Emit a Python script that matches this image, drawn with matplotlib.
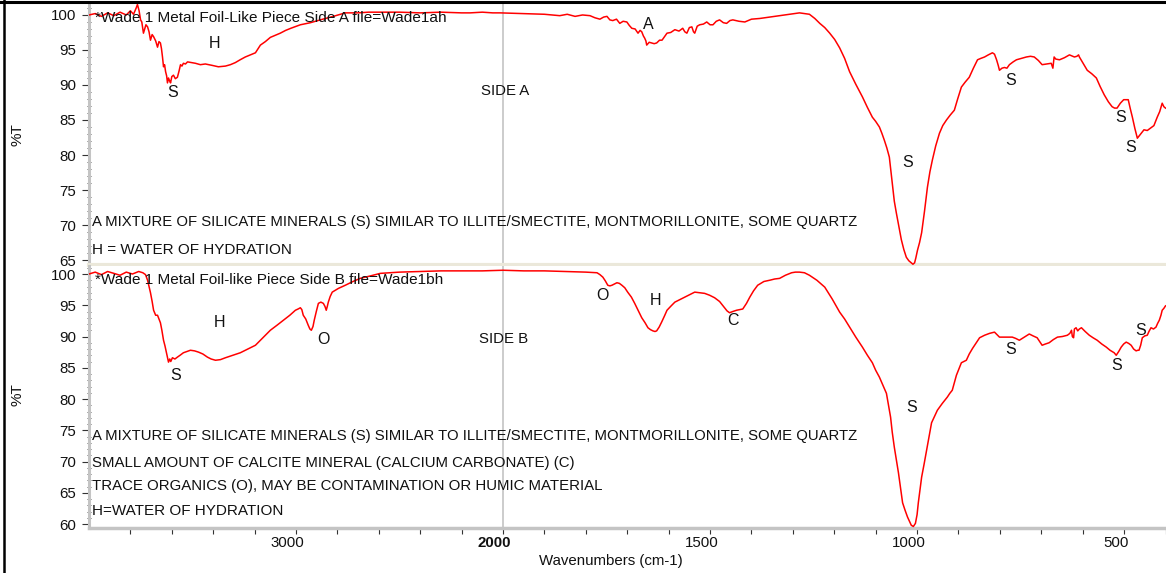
import numpy as np
import matplotlib
matplotlib.use("Agg")
import matplotlib.pyplot as plt
from matplotlib.lines import Line2D
from matplotlib.transforms import ScaledTranslation
from matplotlib import font_manager

# ---------------- data ----------------
# Side A spectrum: wavenumber (cm-1) and %T
wave_a = [4000, 3970, 3940, 3910, 3880, 3850, 3820, 3800, 3785, 3772, 3766, 3758,
          3751, 3745, 3737, 3725, 3717, 3710, 3703, 3695, 3688, 3678, 3669, 3662,
          3655, 3650, 3645, 3640, 3635, 3630, 3625, 3621, 3616, 3611, 3606, 3600,
          3592, 3583, 3573, 3565, 3558, 3551, 3544, 3534, 3524, 3505, 3486, 3462,
          3438, 3405, 3375, 3341, 3317, 3293, 3270, 3245, 3220, 3196, 3172, 3148,
          3124, 3100, 3076, 3050, 3025, 2979, 2930, 2883, 2820, 2762, 2700, 2650,
          2593, 2500, 2400, 2300, 2200, 2159, 2100, 2050, 2014, 1950, 1900, 1863,
          1845, 1826, 1808, 1790, 1778, 1766, 1757, 1749, 1742, 1735, 1726, 1718,
          1710, 1701, 1695, 1689, 1681, 1674, 1669, 1665, 1661, 1658, 1655, 1653,
          1647, 1641, 1635, 1629, 1622, 1616, 1610, 1604, 1595, 1585, 1575, 1566,
          1561, 1556, 1550, 1544, 1540, 1537, 1531, 1525, 1516, 1508, 1500, 1493,
          1485, 1477, 1468, 1460, 1452, 1445, 1430, 1416, 1400, 1380, 1356, 1332,
          1308, 1284, 1272, 1260, 1247, 1235, 1223, 1211, 1199, 1187, 1175, 1163,
          1148, 1132, 1120, 1108, 1100, 1091, 1085, 1079, 1073, 1067, 1063, 1059,
          1055, 1050, 1044, 1038, 1032, 1026, 1020, 1014, 1010, 1006, 1003, 999,
          994, 989, 982, 975, 969, 963, 955, 946, 938, 929, 920, 910,
          902, 893, 884, 874, 864, 854, 846, 837, 828, 818, 813, 808,
          804, 801, 795, 789, 783, 777, 768, 760, 748, 736, 726, 717,
          707, 698, 687, 676, 672, 669, 665, 656, 644, 632, 620, 614,
          610, 608, 598, 589, 578, 567, 558, 548, 538, 529, 523, 517,
          509, 501, 495, 490, 485, 480, 474, 468, 460, 452, 444, 435,
          428, 420, 414, 408, 404, 400]
trans_a = [100.0, 100.2, 99.8, 100.3, 99.9, 100.4, 100.0, 100.6, 100.1, 101.0, 101.5, 100.6,
           99.3, 99.0, 97.4, 98.6, 98.3, 97.6, 96.4, 97.2, 96.9, 96.3, 95.4, 96.2,
           96.0, 95.2, 94.0, 92.6, 92.9, 91.9, 91.3, 90.3, 91.0, 90.6, 90.3, 91.2,
           91.4, 90.9, 91.1, 92.0, 92.9, 92.7, 93.1, 93.0, 93.3, 93.2, 93.1, 92.9,
           93.0, 92.8, 92.6, 92.7, 92.9, 93.2, 93.6, 94.0, 94.3, 94.6, 95.7, 96.2,
           96.8, 97.1, 97.4, 97.8, 98.1, 98.6, 98.9, 99.3, 99.8, 100.3, 100.3, 100.4,
           100.4, 100.4, 100.3, 100.4, 100.3, 100.3, 100.4, 100.3, 100.3, 100.2, 100.1, 99.9,
           100.1, 99.8, 100.0, 99.9, 99.6, 99.4, 99.7, 99.8, 99.3, 99.2, 99.4, 98.8,
           99.1, 99.0, 98.5, 98.1, 98.0, 97.4, 97.8, 97.6, 97.0, 96.7, 96.3, 95.7,
           96.1, 96.0, 95.9, 96.0, 96.4, 96.4, 96.9, 97.4, 97.5, 97.9, 97.7, 98.1,
           97.6, 97.4, 98.2, 98.3, 97.6, 97.4, 98.4, 98.6, 98.7, 99.0, 98.6, 98.6,
           99.1, 99.3, 98.9, 98.8, 99.2, 99.3, 99.1, 99.0, 99.4, 99.5, 99.7, 99.9,
           100.1, 100.3, 100.2, 100.1, 99.5, 98.8, 98.2, 97.4, 96.5, 95.3, 93.8, 91.9,
           90.1, 88.3, 86.8, 85.4, 84.8, 84.0, 83.1, 82.1, 81.0, 79.7, 77.6, 75.4,
           73.4, 71.7, 69.8, 67.9, 66.5, 65.4, 64.9, 64.6, 64.4, 64.6, 65.3, 66.4,
           67.5, 68.9, 72.0, 75.4, 77.6, 79.3, 81.3, 83.1, 84.2, 85.0, 85.7, 86.4,
           88.0, 89.7, 90.4, 91.1, 92.4, 93.6, 93.8, 94.0, 94.3, 94.6, 94.4, 93.6,
           92.8, 92.1, 92.4, 92.5, 92.4, 92.9, 93.3, 93.6, 93.8, 94.0, 94.1, 94.0,
           93.5, 92.9, 93.0, 93.1, 92.4, 94.0, 93.7, 93.6, 93.9, 94.3, 94.0, 94.1,
           94.3, 94.0, 93.0, 92.1, 91.6, 91.0, 89.8, 88.6, 87.6, 86.9, 86.7, 86.7,
           87.4, 87.9, 87.9, 87.9, 86.6, 85.4, 83.8, 82.4, 83.0, 83.6, 83.5, 83.9,
           84.2, 85.4, 86.2, 87.4, 86.9, 86.7]

# Side B spectrum: wavenumber (cm-1) and %T
wave_b = [4000, 3970, 3940, 3910, 3880, 3850, 3820, 3790, 3760, 3740, 3727, 3717,
          3710, 3703, 3695, 3688, 3678, 3669, 3662, 3655, 3648, 3640, 3633, 3626,
          3620, 3616, 3610, 3605, 3597, 3585, 3573, 3560, 3544, 3527, 3510, 3490,
          3471, 3450, 3428, 3410, 3389, 3365, 3341, 3305, 3269, 3232, 3196, 3160,
          3124, 3092, 3061, 3030, 3003, 2990, 2979, 2972, 2965, 2953, 2941, 2933,
          2926, 2918, 2912, 2902, 2892, 2880, 2868, 2860, 2854, 2849, 2844, 2835,
          2825, 2795, 2762, 2725, 2690, 2640, 2593, 2500, 2400, 2300, 2200, 2100,
          2000, 1950, 1900, 1850, 1800, 1773, 1766, 1759, 1753, 1747, 1742, 1737,
          1731, 1725, 1719, 1713, 1706, 1699, 1690, 1682, 1673, 1665, 1657, 1650,
          1644, 1638, 1633, 1629, 1623, 1617, 1610, 1604, 1594, 1585, 1573, 1561,
          1549, 1537, 1525, 1513, 1501, 1489, 1477, 1465, 1459, 1453, 1445, 1436,
          1428, 1421, 1412, 1404, 1395, 1385, 1370, 1356, 1344, 1332, 1318, 1303,
          1294, 1284, 1272, 1260, 1242, 1223, 1205, 1187, 1175, 1163, 1148, 1132,
          1120, 1108, 1100, 1091, 1082, 1074, 1069, 1064, 1060, 1055, 1050, 1045,
          1040, 1035, 1029, 1023, 1018, 1014, 1009, 1004, 1000, 997, 993, 989,
          983, 977, 971, 965, 958, 951, 939, 927, 921, 915, 910, 905,
          899, 893, 887, 881, 874, 866, 858, 849, 837, 825, 819, 813,
          807, 801, 790, 780, 770, 762, 753, 741, 729, 720, 710, 704,
          698, 690, 681, 671, 661, 649, 637, 631, 627, 625, 622, 620,
          616, 612, 608, 603, 594, 584, 575, 565, 554, 543, 534, 524,
          519, 513, 507, 501, 495, 489, 483, 477, 471, 467, 464, 460,
          456, 450, 444, 440, 435, 429, 423, 419, 415, 411, 408, 404, 400]
trans_b = [100.0, 100.3, 99.9, 100.4, 100.1, 99.8, 100.3, 100.0, 100.4, 100.2, 99.9, 99.0,
           98.0, 97.0, 95.6, 94.2, 93.4, 93.4, 92.8, 92.2, 91.0, 89.4, 88.5, 87.4,
           86.5, 85.9, 86.4, 86.0, 86.6, 86.4, 86.7, 87.0, 87.4, 87.6, 87.8, 87.7,
           87.5, 87.2, 86.7, 86.4, 86.2, 86.3, 86.6, 87.0, 87.4, 88.0, 88.6, 89.8,
           91.0, 91.8, 92.6, 93.4, 94.2, 94.4, 94.6, 94.3, 93.4, 92.8, 91.8, 91.2,
           91.0, 91.6, 92.6, 94.0, 95.3, 95.5, 95.3, 94.8, 94.2, 94.8, 95.5, 96.4,
           97.1, 97.7, 98.2, 98.8, 99.3, 99.7, 100.1, 100.3, 100.4, 100.5, 100.5, 100.5,
           100.6, 100.5, 100.5, 100.4, 100.3, 100.2, 99.9, 99.5, 98.9, 98.2, 98.1, 98.2,
           98.4, 98.6, 98.5, 98.2, 97.8, 97.1, 96.3, 95.3, 94.1, 93.0, 92.2, 91.4,
           91.1, 90.9, 90.8, 90.9, 91.5, 92.3, 93.3, 94.2, 94.9, 95.5, 95.9, 96.3,
           96.7, 97.1, 97.0, 96.9, 96.6, 96.2, 95.6, 94.6, 94.1, 93.8, 94.0, 94.2,
           94.3, 94.4, 95.3, 96.3, 97.3, 98.2, 98.8, 99.0, 99.2, 99.3, 99.8, 100.2,
           100.3, 100.3, 100.2, 99.8, 99.0, 97.9, 96.0, 93.9, 92.8, 91.5, 89.9, 88.3,
           87.0, 85.8, 84.6, 83.5, 82.1, 80.9, 79.0, 77.1, 74.7, 72.3, 70.3, 68.2,
           65.8, 63.4, 62.2, 61.1, 60.4, 59.8, 59.6, 60.1, 61.5, 63.4, 65.4, 67.5,
           69.6, 71.8, 74.0, 76.2, 77.2, 78.2, 79.3, 80.3, 80.9, 81.4, 82.6, 83.8,
           84.8, 85.8, 86.0, 86.2, 87.2, 88.1, 88.9, 89.8, 90.2, 90.5, 90.6, 90.7,
           90.3, 89.9, 89.9, 89.9, 89.9, 89.7, 89.4, 89.9, 90.4, 90.1, 89.8, 89.2,
           88.6, 88.8, 89.0, 89.5, 89.9, 90.0, 90.2, 90.5, 91.0, 90.0, 89.8, 91.2,
           91.4, 90.9, 91.2, 91.4, 90.8, 90.2, 89.8, 89.4, 88.8, 88.3, 87.8, 87.4,
           87.0, 87.6, 88.3, 88.8, 89.1, 88.9, 88.6, 88.0, 87.7, 87.8, 87.8, 88.6,
           89.8, 90.1, 90.2, 90.8, 91.4, 91.2, 91.5, 92.1, 92.6, 93.4, 94.2, 94.5, 94.9]

# tick values
x_major = [3000, 2000, 1500, 1000, 500]
x_minor = [3800, 3600, 3400, 3200, 2800, 2600, 2400, 2200,
           1900, 1800, 1700, 1600, 1400, 1300, 1200, 1100,
           900, 800, 700, 600, 400]
y_major_a = [65, 70, 75, 80, 85, 90, 95, 100]
y_major_b = [60, 65, 70, 75, 80, 85, 90, 95, 100]

# peak labels (wavenumber, %T, text)
labels_a = [(3597, 88.9, "S"), (3394, 95.9, "H"), (1648, 98.6, "A"),
            (1023, 78.9, "S"), (775, 90.7, "S"), (509, 85.3, "S"), (485, 81.1, "S")]
labels_b = [(3582, 83.8, "S"), (3370, 92.3, "H"), (2868, 89.6, "O"),
            (1761, 96.5, "O"), (1631, 95.8, "H"), (1445, 92.5, "C"),
            (1014, 78.7, "S"), (775, 88.0, "S"), (517, 85.4, "S"), (461, 91.0, "S")]

header_a = "*Wade 1 Metal Foil-Like Piece Side A file=Wade1ah"
header_b = "*Wade 1 Metal Foil-like Piece Side B file=Wade1bh"
notes_a = ["A MIXTURE OF SILICATE MINERALS (S) SIMILAR TO ILLITE/SMECTITE, MONTMORILLONITE, SOME QUARTZ",
           "H = WATER OF HYDRATION"]
notes_b = ["A MIXTURE OF SILICATE MINERALS (S) SIMILAR TO ILLITE/SMECTITE, MONTMORILLONITE, SOME QUARTZ",
           "SMALL AMOUNT OF CALCITE MINERAL (CALCIUM CARBONATE) (C)",
           "TRACE ORGANICS (O), MAY BE CONTAMINATION OR HUMIC MATERIAL",
           "H=WATER OF HYDRATION"]

# ---------------- figure ----------------
W, H = 1166, 573
DPI = 100
plt.rcParams['font.family'] = ['Liberation Sans', 'DejaVu Sans']
names = {f.name for f in font_manager.fontManager.ttflist}
NARROW = 'Liberation Sans Narrow' if 'Liberation Sans Narrow' in names else 'Liberation Sans'

fig = plt.figure(figsize=(W / DPI, H / DPI), dpi=DPI)
fig.patch.set_facecolor('white')


def fx(px):
    return px / W


def fy(py):
    return 1 - py / H


def fwd(w):
    w = np.asarray(w, dtype=float)
    return np.where(w > 2000, 2000 + (w - 2000) / 2.0, w)


def inv(u):
    u = np.asarray(u, dtype=float)
    return np.where(u > 2000, 2000 + (u - 2000) * 2.0, u)


x0, x1 = 89, 1165.5
ax_a = fig.add_axes([fx(x0), fy(265), fx(x1) - fx(x0), fy(3) - fy(265)])
ax_b = fig.add_axes([fx(x0), fy(528), fx(x1) - fx(x0), fy(266) - fy(528)], sharex=ax_a)

AXCOL = '#c4c4c4'
for ax, w, t, ylim, ymaj in [(ax_a, wave_a, trans_a, (64.29, 101.71), y_major_a),
                             (ax_b, wave_b, trans_b, (59.36, 101.28), y_major_b)]:
    ax.set_xscale('function', functions=(fwd, inv))
    ax.plot(w, t, color='#ff0000', lw=1.1, zorder=3)
    ax.axvline(2000, color='#c8c8c8', lw=1.3, zorder=1)
    ax.set_ylim(*ylim)
    ax.set_yticks(ymaj)
    ax.set_yticks(np.arange(ylim[0] // 1 + 1, ylim[1], 1.0), minor=True)
    for s in ['top', 'right']:
        ax.spines[s].set_visible(False)
    ax.spines['left'].set_color(AXCOL)
    ax.spines['left'].set_linewidth(2.2)
    ax.tick_params(axis='y', which='major', direction='out', length=5, width=0.8,
                   color='#333333', labelsize=10.8, pad=4, labelcolor='#111111')
    ax.tick_params(axis='y', which='minor', direction='inout', length=3, width=0.7,
                   color='#555555')
    ax.set_facecolor('white')

ax_a.set_xlim(4000, 400)
ax_a.spines['bottom'].set_color('#ebe8da')
ax_a.spines['bottom'].set_linewidth(3)
ax_a.tick_params(axis='x', which='both', bottom=False, labelbottom=False)

ax_b.spines['bottom'].set_color(AXCOL)
ax_b.spines['bottom'].set_linewidth(2.5)
ax_b.set_xticks(x_major)
ax_b.set_xticks(x_minor, minor=True)
ax_b.set_xticklabels([str(v) for v in x_major])
ax_b.tick_params(axis='x', which='both', direction='out', length=4, width=0.8,
                 color='#333333', labelsize=10.8, pad=2, labelcolor='#111111')
for lab in ax_b.get_xticklabels():
    lab.set_transform(lab.get_transform() + ScaledTranslation(-6 / 72, 0, fig.dpi_scale_trans))
    if lab.get_text() == '2000':
        lab.set_fontweight('bold')

# peak labels
for ax, labs in [(ax_a, labels_a), (ax_b, labels_b)]:
    for w, t, s in labs:
        ax.text(w, t, s, ha='center', va='center', fontsize=11.5, color='#111111', zorder=4)

ax_a.text(1995, 89.1, "SIDE A", ha='center', va='center', fontsize=10.8, color='#111111', zorder=4)
ax_b.text(1998, 89.6, "SIDE B", ha='center', va='center', fontsize=10.8, color='#111111', zorder=4)

renderer = fig.canvas.get_renderer()


def fit_text(xpx, ypx, s, target_w, family, base=11, **kw):
    t = fig.text(fx(xpx), fy(ypx), s, ha='left', va='center', fontsize=base,
                 family=family, color='#111111', zorder=5, **kw)
    wpx = t.get_window_extent(renderer).width
    t.set_fontsize(base * target_w / wpx)
    return t


fit_text(95, 18, header_a, 350, 'Liberation Sans')
fit_text(95, 280, header_b, 347, 'Liberation Sans')
fit_text(92, 222, notes_a[0], 765, NARROW)
fit_text(92, 250, notes_a[1], 200, NARROW)
fit_text(92, 436, notes_b[0], 765, NARROW)
fit_text(92, 463, notes_b[1], 484, NARROW)
fit_text(92, 486, notes_b[2], 512, NARROW)
fit_text(92, 511, notes_b[3], 191, NARROW)

# axis titles
fig.text(fx(18), fy(135), "%T", rotation=90, ha='center', va='center', fontsize=11, color='#111111')
fig.text(fx(18), fy(395), "%T", rotation=90, ha='center', va='center', fontsize=11, color='#111111')
fit_text(539, 561, "Wavenumbers (cm-1)", 144, 'Liberation Sans')

# outer black frame (top and left)
fig.add_artist(Line2D([0, 1], [fy(1.5), fy(1.5)], transform=fig.transFigure, color='black', lw=2.2))
fig.add_artist(Line2D([fx(4), fx(4)], [0, 1], transform=fig.transFigure, color='black', lw=1.8))

fig.savefig('out.png', dpi=DPI)
